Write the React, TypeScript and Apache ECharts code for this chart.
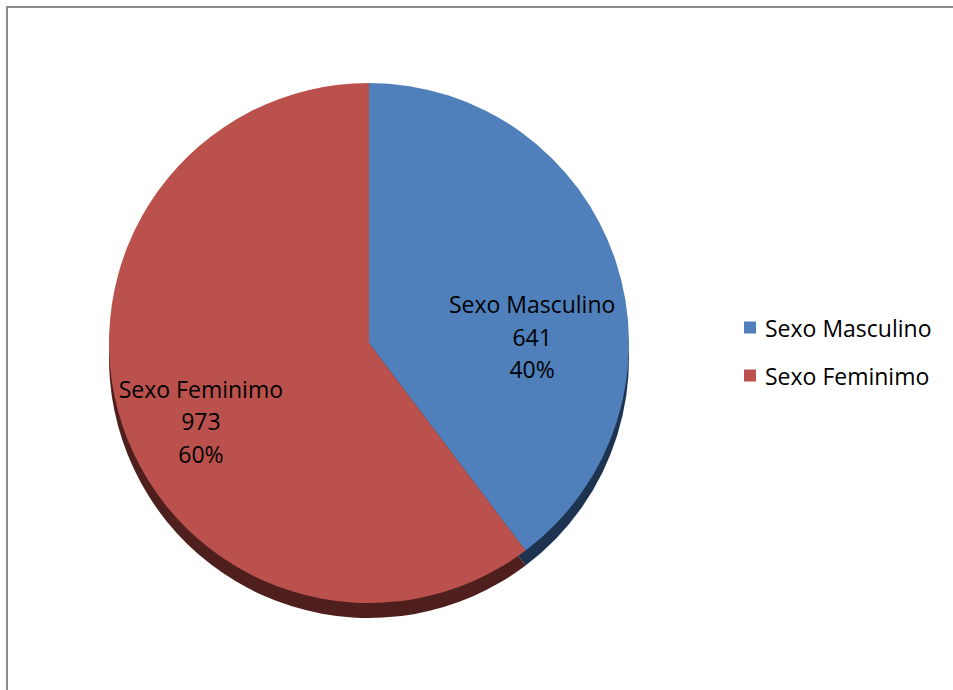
import React, { useEffect, useRef } from "react";
import * as echarts from "echarts";

const categories = ["Sexo Masculino", "Sexo Feminimo"];
const values = [641, 973];
const topColors = ["#4f80bb", "#bb514d"];
const sideColors = ["#1d3350", "#4f1f1e"];
const labelOffsets = [
  [37, 36],
  [-42, 36],
];

export default function App() {
  const ref = useRef<HTMLDivElement>(null);
  useEffect(() => {
    if (!ref.current) return;
    const chart = echarts.init(ref.current, undefined, { renderer: "svg" });
    const font = "'Open Sans', 'Noto Sans', sans-serif";
    const center = [369, 343];
    const radius = 260;
    chart.setOption({
      animation: false,
      backgroundColor: "#ffffff",
      graphic: [
        {
          type: "rect",
          shape: { x: 7, y: 7, width: 1000, height: 1000 },
          style: { fill: "none", stroke: "#8c8c8c", lineWidth: 2 },
          silent: true,
        },
      ],
      legend: {
        orient: "vertical",
        left: 744,
        top: 316,
        padding: 0,
        itemWidth: 12,
        itemHeight: 12,
        itemGap: 25,
        icon: "rect",
        selectedMode: false,
        data: categories.map((c, i) => ({ name: c, itemStyle: { color: topColors[i] } })),
        textStyle: {
          fontFamily: font,
          fontSize: 23,
          lineHeight: 20,
          color: "#000000",
          padding: [0, 0, 0, 4],
        },
      },
      series: [
        {
          type: "pie",
          name: "side",
          silent: true,
          center: [center[0], center[1] + 15],
          radius: radius,
          startAngle: 90,
          clockwise: true,
          label: { show: false },
          labelLine: { show: false },
          z: 1,
          data: categories.map((c, i) => ({
            name: "side " + c,
            value: values[i],
            itemStyle: { color: sideColors[i] },
          })),
        },
        {
          type: "pie",
          name: "Sexo",
          silent: true,
          center: center,
          radius: radius,
          startAngle: 90,
          clockwise: true,
          percentPrecision: 0,
          z: 2,
          itemStyle: { borderWidth: 0 },
          label: {
            show: true,
            position: "inside",
            formatter: "{b}\n{c}\n{d}%",
            fontFamily: font,
            fontSize: 23,
            lineHeight: 32.5,
            color: "#000000",
            align: "center",
          },
          labelLine: { show: false },
          data: categories.map((c, i) => ({
            name: c,
            value: values[i],
            itemStyle: { color: topColors[i] },
            label: { offset: labelOffsets[i] },
          })),
        },
      ],
    });
    return () => chart.dispose();
  }, []);
  return (
    <div
      ref={ref}
      style={{ position: "fixed", left: 0, top: 0, width: 953, height: 690 }}
    />
  );
}
